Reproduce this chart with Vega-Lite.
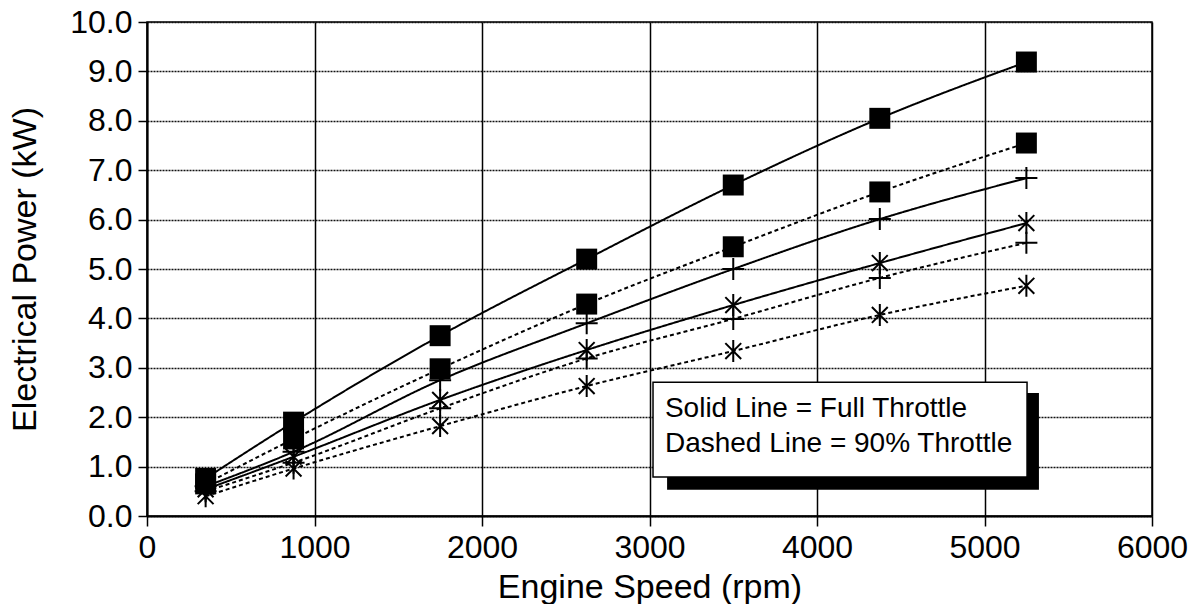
{
  "$schema": "https://vega.github.io/schema/vega-lite/v6.json",
  "width": 1005,
  "height": 494,
  "autosize": {"type": "none"},
  "padding": {"left": 147, "top": 22, "right": 40, "bottom": 88},
  "background": "white",
  "config": {
    "font": "Liberation Sans",
    "view": {"stroke": "black", "strokeWidth": 1.5},
    "axis": {
      "labelFont": "Liberation Sans",
      "titleFont": "Liberation Sans",
      "labelColor": "black",
      "titleColor": "black",
      "titleFontWeight": "normal",
      "domainColor": "black",
      "tickColor": "black"
    }
  },
  "data": {
    "values": [
      {"rpm": 350, "power": 0.76, "series": "Full square", "throttle": "Full Throttle", "marker": "square"},
      {"rpm": 875, "power": 1.90, "series": "Full square", "throttle": "Full Throttle", "marker": "square"},
      {"rpm": 1750, "power": 3.65, "series": "Full square", "throttle": "Full Throttle", "marker": "square"},
      {"rpm": 2625, "power": 5.20, "series": "Full square", "throttle": "Full Throttle", "marker": "square"},
      {"rpm": 3500, "power": 6.70, "series": "Full square", "throttle": "Full Throttle", "marker": "square"},
      {"rpm": 4375, "power": 8.05, "series": "Full square", "throttle": "Full Throttle", "marker": "square"},
      {"rpm": 5250, "power": 9.19, "series": "Full square", "throttle": "Full Throttle", "marker": "square"},

      {"rpm": 350, "power": 0.65, "series": "90 square", "throttle": "90% Throttle", "marker": "square"},
      {"rpm": 875, "power": 1.56, "series": "90 square", "throttle": "90% Throttle", "marker": "square"},
      {"rpm": 1750, "power": 2.98, "series": "90 square", "throttle": "90% Throttle", "marker": "square"},
      {"rpm": 2625, "power": 4.29, "series": "90 square", "throttle": "90% Throttle", "marker": "square"},
      {"rpm": 3500, "power": 5.45, "series": "90 square", "throttle": "90% Throttle", "marker": "square"},
      {"rpm": 4375, "power": 6.56, "series": "90 square", "throttle": "90% Throttle", "marker": "square"},
      {"rpm": 5250, "power": 7.55, "series": "90 square", "throttle": "90% Throttle", "marker": "square"},

      {"rpm": 350, "power": 0.60, "series": "Full plus", "throttle": "Full Throttle", "marker": "plus"},
      {"rpm": 875, "power": 1.30, "series": "Full plus", "throttle": "Full Throttle", "marker": "plus"},
      {"rpm": 1750, "power": 2.75, "series": "Full plus", "throttle": "Full Throttle", "marker": "plus"},
      {"rpm": 2625, "power": 3.90, "series": "Full plus", "throttle": "Full Throttle", "marker": "plus"},
      {"rpm": 3500, "power": 5.00, "series": "Full plus", "throttle": "Full Throttle", "marker": "plus"},
      {"rpm": 4375, "power": 6.01, "series": "Full plus", "throttle": "Full Throttle", "marker": "plus"},
      {"rpm": 5250, "power": 6.84, "series": "Full plus", "throttle": "Full Throttle", "marker": "plus"},

      {"rpm": 350, "power": 0.54, "series": "Full star", "throttle": "Full Throttle", "marker": "star"},
      {"rpm": 875, "power": 1.20, "series": "Full star", "throttle": "Full Throttle", "marker": "star"},
      {"rpm": 1750, "power": 2.35, "series": "Full star", "throttle": "Full Throttle", "marker": "star"},
      {"rpm": 2625, "power": 3.36, "series": "Full star", "throttle": "Full Throttle", "marker": "star"},
      {"rpm": 3500, "power": 4.27, "series": "Full star", "throttle": "Full Throttle", "marker": "star"},
      {"rpm": 4375, "power": 5.12, "series": "Full star", "throttle": "Full Throttle", "marker": "star"},
      {"rpm": 5250, "power": 5.93, "series": "Full star", "throttle": "Full Throttle", "marker": "star"},

      {"rpm": 350, "power": 0.50, "series": "90 plus", "throttle": "90% Throttle", "marker": "plus"},
      {"rpm": 875, "power": 1.08, "series": "90 plus", "throttle": "90% Throttle", "marker": "plus"},
      {"rpm": 1750, "power": 2.18, "series": "90 plus", "throttle": "90% Throttle", "marker": "plus"},
      {"rpm": 2625, "power": 3.19, "series": "90 plus", "throttle": "90% Throttle", "marker": "plus"},
      {"rpm": 3500, "power": 3.99, "series": "90 plus", "throttle": "90% Throttle", "marker": "plus"},
      {"rpm": 4375, "power": 4.82, "series": "90 plus", "throttle": "90% Throttle", "marker": "plus"},
      {"rpm": 5250, "power": 5.53, "series": "90 plus", "throttle": "90% Throttle", "marker": "plus"},

      {"rpm": 350, "power": 0.40, "series": "90 star", "throttle": "90% Throttle", "marker": "star"},
      {"rpm": 875, "power": 0.96, "series": "90 star", "throttle": "90% Throttle", "marker": "star"},
      {"rpm": 1750, "power": 1.82, "series": "90 star", "throttle": "90% Throttle", "marker": "star"},
      {"rpm": 2625, "power": 2.63, "series": "90 star", "throttle": "90% Throttle", "marker": "star"},
      {"rpm": 3500, "power": 3.34, "series": "90 star", "throttle": "90% Throttle", "marker": "star"},
      {"rpm": 4375, "power": 4.07, "series": "90 star", "throttle": "90% Throttle", "marker": "star"},
      {"rpm": 5250, "power": 4.66, "series": "90 star", "throttle": "90% Throttle", "marker": "star"}
    ]
  },
  "layer": [
    {
      "mark": {"type": "line", "color": "black", "strokeWidth": 2, "interpolate": "monotone"},
      "encoding": {
        "x": {
          "field": "rpm", "type": "quantitative",
          "scale": {"domain": [0, 6000], "nice": false, "zero": false},
          "axis": {
            "values": [0, 1000, 2000, 3000, 4000, 5000, 6000],
            "format": "d",
            "title": "Engine Speed (rpm)",
            "grid": true, "gridColor": "black", "gridWidth": 1.5, "gridOpacity": 1,
            "domainWidth": 2, "tickSize": 10, "tickWidth": 1.5,
            "labelFontSize": 32, "labelPadding": 6, "labelFlush": false,
            "titleFontSize": 34, "titleBaseline": "alphabetic", "titleY": 81
          }
        },
        "y": {
          "field": "power", "type": "quantitative",
          "scale": {"domain": [0, 10], "nice": false},
          "axis": {
            "values": [0, 1, 2, 3, 4, 5, 6, 7, 8, 9, 10],
            "format": ".1f",
            "title": "Electrical Power (kW)",
            "grid": true, "gridColor": "#111111", "gridWidth": 1.5, "gridDash": [2, 1], "gridOpacity": 1,
            "domainWidth": 2, "tickSize": 9, "tickWidth": 1.5,
            "labelFontSize": 32, "labelPadding": 6, "labelFlush": false,
            "titleFontSize": 34, "titleBaseline": "alphabetic", "titleX": -112
          }
        },
        "detail": {"field": "series", "type": "nominal"},
        "strokeDash": {
          "field": "throttle", "type": "nominal",
          "scale": {"domain": ["Full Throttle", "90% Throttle"], "range": [[1, 0], [4, 3]]},
          "legend": null
        }
      }
    },
    {
      "transform": [{"filter": "datum.marker === 'square'"}],
      "mark": {"type": "point", "shape": "square", "filled": true, "color": "black", "size": 440, "opacity": 1},
      "encoding": {
        "x": {"field": "rpm", "type": "quantitative"},
        "y": {"field": "power", "type": "quantitative"}
      }
    },
    {
      "transform": [{"filter": "datum.marker !== 'square'"}],
      "mark": {"type": "point", "filled": false, "color": "black", "strokeWidth": 2, "size": 484, "opacity": 1},
      "encoding": {
        "x": {"field": "rpm", "type": "quantitative"},
        "y": {"field": "power", "type": "quantitative"},
        "shape": {
          "field": "marker", "type": "nominal",
          "scale": {"domain": ["plus", "star"], "range": ["M-1,0H1M0,-1V1", "M-0.72,-0.72L0.72,0.72M-0.72,0.72L0.72,-0.72M0,-1V1"]},
          "legend": null
        }
      }
    },
    {
      "data": {"values": [{}]},
      "mark": {"type": "rect", "color": "black", "opacity": 1},
      "encoding": {
        "x": {"datum": 3105, "type": "quantitative"},
        "x2": {"datum": 5325},
        "y": {"datum": 2.49, "type": "quantitative"},
        "y2": {"datum": 0.53}
      }
    },
    {
      "data": {"values": [{}]},
      "mark": {"type": "rect", "fill": "white", "stroke": "black", "strokeWidth": 1.5, "opacity": 1},
      "encoding": {
        "x": {"datum": 3021, "type": "quantitative"},
        "x2": {"datum": 5254},
        "y": {"datum": 2.71, "type": "quantitative"},
        "y2": {"datum": 0.79}
      }
    },
    {
      "data": {"values": [{}]},
      "mark": {"type": "text", "align": "left", "baseline": "alphabetic", "fontSize": 28, "color": "black", "font": "Liberation Sans"},
      "encoding": {
        "x": {"datum": 3092, "type": "quantitative"},
        "y": {"datum": 2.0, "type": "quantitative"},
        "text": {"value": "Solid Line = Full Throttle"}
      }
    },
    {
      "data": {"values": [{}]},
      "mark": {"type": "text", "align": "left", "baseline": "alphabetic", "fontSize": 28, "color": "black", "font": "Liberation Sans"},
      "encoding": {
        "x": {"datum": 3092, "type": "quantitative"},
        "y": {"datum": 1.30, "type": "quantitative"},
        "text": {"value": "Dashed Line = 90% Throttle"}
      }
    }
  ]
}
